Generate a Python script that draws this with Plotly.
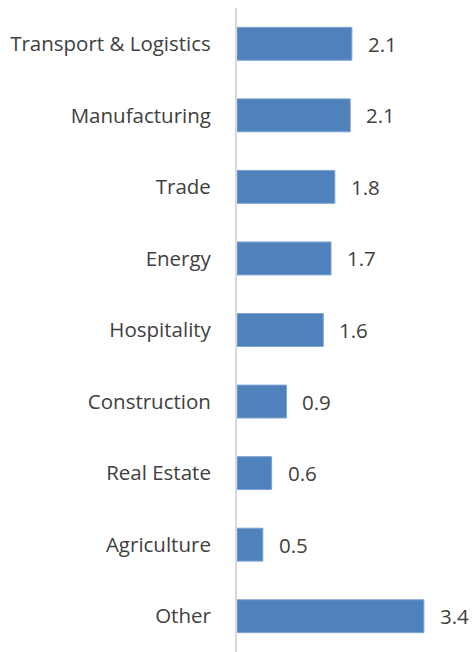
import plotly.graph_objects as go

categories = ["Transport & Logistics", "Manufacturing", "Trade", "Energy", "Hospitality",
              "Construction", "Real Estate", "Agriculture", "Other"]
values = [2.09, 2.06, 1.78, 1.71, 1.57, 0.9, 0.63, 0.47, 3.4]
labels = ["2.1", "2.1", "1.8", "1.7", "1.6", "0.9", "0.6", "0.5", "3.4"]

FONT = "Open Sans"
TXT = "#404040"
FS = 20.5

fig = go.Figure(go.Bar(
    x=values, y=categories, orientation="h",
    marker=dict(color="#4F81BD", line=dict(color="#7EA3D0", width=1)),
    hoverinfo="skip",
))

annotations = [
    dict(x=v, y=c, xref="x", yref="y", text=t, showarrow=False,
         xanchor="left", yanchor="middle", xshift=14,
         font=dict(family=FONT, size=FS, color=TXT))
    for c, v, t in zip(categories, values, labels)
]

fig.update_layout(
    width=475, height=652,
    margin=dict(l=237, r=0, t=8, b=0),
    paper_bgcolor="white", plot_bgcolor="white",
    bargap=0.54, showlegend=False,
    annotations=annotations,
    font=dict(family=FONT, size=FS, color=TXT),
)
fig.update_xaxes(range=[0, 4.33], visible=False)
fig.update_yaxes(autorange="reversed", showline=True, linecolor="#D9D9D9", linewidth=2,
                 ticks="", showgrid=False, ticklabelstandoff=20,
                 tickfont=dict(family=FONT, size=FS, color=TXT))

fig.write_html("out.html")
